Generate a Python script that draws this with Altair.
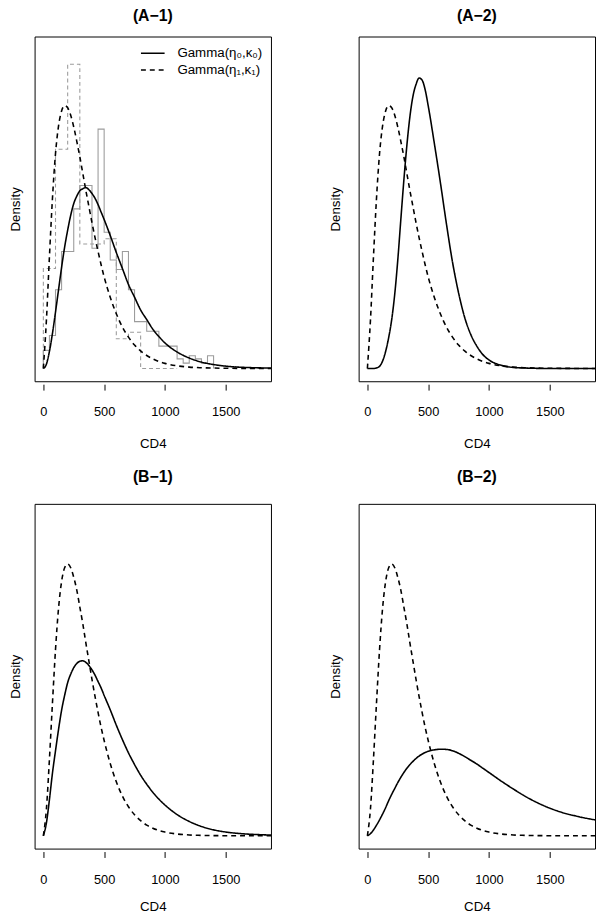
import altair as alt
import pandas as pd

cd4_grid = [0, 25, 50, 75, 100, 125, 150, 175, 200, 225, 250, 275, 300, 325, 350,
            375, 400, 425, 450, 475, 500, 550, 600, 650, 700, 750, 800, 850, 900,
            950, 1000, 1100, 1200, 1300, 1400, 1500, 1600, 1700, 1800, 1900]

# densities (units of 1e-3)
a1_solid = [0, 0.04, 0.16, 0.33, 0.53, 0.74, 0.95, 1.14, 1.30, 1.44, 1.55, 1.62, 1.67,
            1.69, 1.70, 1.68, 1.645, 1.60, 1.54, 1.47, 1.40, 1.25, 1.09, 0.94, 0.79,
            0.67, 0.55, 0.46, 0.37, 0.30, 0.24, 0.155, 0.098, 0.060, 0.037, 0.022,
            0.013, 0.008, 0.005, 0.003]
a_dashed = [0, 0.45, 1.05, 1.60, 2.02, 2.28, 2.42, 2.47, 2.45, 2.38, 2.27, 2.135, 1.99,
            1.83, 1.67, 1.52, 1.37, 1.23, 1.10, 0.975, 0.86, 0.67, 0.515, 0.39, 0.295,
            0.22, 0.165, 0.122, 0.09, 0.066, 0.048, 0.025, 0.013, 0.007, 0.004, 0.002,
            0.001, 0.0005, 0.0003, 0.0002]
a2_solid = [0, 0, 0, 0.005, 0.02, 0.07, 0.16, 0.29, 0.46, 0.70, 1.02, 1.40, 1.77, 2.10,
            2.37, 2.56, 2.67, 2.73, 2.71, 2.62, 2.47, 2.12, 1.75, 1.36, 1.00, 0.71, 0.48,
            0.32, 0.21, 0.13, 0.08, 0.03, 0.01, 0.004, 0.001, 0, 0, 0, 0, 0]
b1_solid = [0, 0.12, 0.34, 0.59, 0.80, 1.00, 1.18, 1.32, 1.44, 1.52, 1.58, 1.62, 1.64,
            1.645, 1.63, 1.60, 1.56, 1.51, 1.45, 1.39, 1.32, 1.185, 1.04, 0.905, 0.78,
            0.67, 0.57, 0.485, 0.41, 0.345, 0.29, 0.20, 0.135, 0.088, 0.056, 0.036,
            0.023, 0.015, 0.010, 0.006]
b2_solid = [0, 0.02, 0.055, 0.10, 0.15, 0.205, 0.265, 0.33, 0.39, 0.445, 0.50, 0.55,
            0.595, 0.635, 0.67, 0.70, 0.727, 0.75, 0.768, 0.783, 0.795, 0.808, 0.814,
            0.812, 0.80, 0.776, 0.745, 0.71, 0.675, 0.635, 0.595, 0.515, 0.44, 0.37,
            0.31, 0.26, 0.22, 0.19, 0.165, 0.145]
b_dashed = [0, 0.25, 0.72, 1.25, 1.75, 2.14, 2.39, 2.52, 2.555, 2.52, 2.43, 2.31, 2.15,
            1.99, 1.81, 1.64, 1.47, 1.31, 1.16, 1.02, 0.896, 0.68, 0.508, 0.374, 0.273,
            0.198, 0.142, 0.101, 0.072, 0.050, 0.035, 0.017, 0.008, 0.004, 0.002, 0.001,
            0.0005, 0.0002, 0.0001, 0]

# histograms in panel A-1 (bin left edges, density)
hist_solid_left = [0, 50, 100, 150, 200, 250, 300, 350, 400, 450, 500, 550, 600, 650,
                   700, 750, 800, 850, 900, 950, 1000, 1050, 1100, 1150, 1200, 1250,
                   1300, 1350]
hist_solid_dens = [0.17, 0.31, 0.74, 1.10, 1.10, 1.50, 1.72, 1.72, 1.13, 2.25, 1.28,
                   1.02, 0.93, 1.10, 0.74, 0.44, 0.44, 0.35, 0.35, 0.21, 0.21, 0.21,
                   0.09, 0.05, 0.12, 0.09, 0.05, 0.12]
hist_solid_end = 1400
hist_dashed_left = [0, 100, 200, 300, 400, 500, 600, 700, 800, 900, 1000]
hist_dashed_dens = [0.94, 2.06, 2.86, 1.17, 1.17, 1.22, 0.28, 0.34, 0, 0, 0]
hist_dashed_end = 1100

x_ticks = [0, 500, 1000, 1500]
x_lim = [-72, 1872]
y_lim = [-0.12, 3.12]

LEG0 = "Gamma(η₀,κ₀)"
LEG1 = "Gamma(η₁,κ₁)"
legend_labels = [LEG0, LEG1]
legend_dashes = [[1, 0], [5, 4]]
FONT = "Liberation Sans"

XSCALE = alt.Scale(domain=x_lim, nice=False, zero=False)
YSCALE = alt.Scale(domain=y_lim, nice=False, zero=False)


def xaxis(title_pad):
    return alt.Axis(values=x_ticks, format="d", domain=False, grid=False, ticks=True,
                    tickSize=6, tickWidth=1, tickColor="black", offset=3,
                    labelFontSize=13, labelColor="black", labelPadding=16,
                    labelFlush=False, labelOverlap=False, labelFont=FONT,
                    titleFontSize=13.5, titleFontWeight="normal", titleColor="black",
                    titleFont=FONT, titlePadding=title_pad)


def yaxis(title_pad):
    return alt.Axis(labels=False, ticks=False, domain=False, grid=False,
                    titleFontSize=13.5, titleFontWeight="normal", titleColor="black",
                    titleFont=FONT, titlePadding=title_pad)


def enc(xpad, ypad):
    return dict(x=alt.X("cd4:Q", scale=XSCALE, axis=xaxis(xpad), title="CD4"),
                y=alt.Y("dens:Q", scale=YSCALE, axis=yaxis(ypad), title="Density"))


def curve_layer(solid, dashed, xpad, ypad):
    n = len(cd4_grid)
    df = pd.DataFrame({"cd4": cd4_grid + cd4_grid,
                       "dens": solid + dashed,
                       "dist": [LEG0] * n + [LEG1] * n})
    return alt.Chart(df).mark_line(color="black", strokeWidth=1.6,
                                   interpolate="monotone", clip=True).encode(
        **enc(xpad, ypad),
        strokeDash=alt.StrokeDash("dist:N",
                                  scale=alt.Scale(domain=legend_labels,
                                                  range=legend_dashes),
                                  legend=None),
    )


def step_layer(lefts, dens, end, dashed, xpad, ypad):
    xs = [lefts[0]] + list(lefts) + [end]
    ys = [0.0] + list(dens) + [0.0]
    df = pd.DataFrame({"cd4": xs, "dens": ys, "i": list(range(len(xs)))})
    kw = dict(color="#9c9c9c", strokeWidth=1.1, interpolate="step-after", clip=True)
    if dashed:
        kw["strokeDash"] = [4, 3]
    return alt.Chart(df).mark_line(**kw).encode(**enc(xpad, ypad),
                                                order=alt.Order("i:Q"))


def legend_layers():
    layers = []
    for i, (lab, dash) in enumerate(zip(legend_labels, legend_dashes)):
        d = pd.DataFrame({"label": [lab]})
        ypos = 17 + 17 * i
        layers.append(alt.Chart(d).mark_rule(color="black", strokeWidth=1.5,
                                             strokeDash=dash).encode(
            x=alt.value(108), x2=alt.value(132), y=alt.value(ypos)))
        layers.append(alt.Chart(d).mark_text(align="left", baseline="middle",
                                             font=FONT, fontSize=13.5,
                                             color="black").encode(
            x=alt.value(145), y=alt.value(ypos), text="label:N"))
    return layers


W, H = 240, 350


def ttl(text, off):
    return alt.TitleParams(text, offset=off)


a1 = alt.layer(
    step_layer(hist_solid_left, hist_solid_dens, hist_solid_end, False, 18, 12),
    step_layer(hist_dashed_left, hist_dashed_dens, hist_dashed_end, True, 18, 12),
    curve_layer(a1_solid, a_dashed, 18, 12),
    *legend_layers(),
).properties(width=W, height=H, title=ttl("(A−1)", 13))

a2 = curve_layer(a2_solid, a_dashed, 18, 16).properties(
    width=W, height=H, title=ttl("(A−2)", 13))
b1 = curve_layer(b1_solid, b_dashed, 14, 12).properties(
    width=W, height=H, title=ttl("(B−1)", 19.5))
b2 = curve_layer(b2_solid, b_dashed, 14, 16).properties(
    width=W, height=H, title=ttl("(B−2)", 19.5))

top = alt.hconcat(a1, a2, spacing=57)
bottom = alt.hconcat(b1, b2, spacing=57)

chart = alt.vconcat(top, bottom, spacing=18.5).properties(
    padding={"left": 0, "top": -8, "right": 0, "bottom": -4}, background="white"
).configure_view(stroke="black", strokeWidth=1).configure_title(
    font=FONT, fontSize=16, fontWeight="bold", anchor="middle", frame="group",
    color="black"
)

chart.save("out.html", embed_options={"renderer": "svg", "actions": False})
